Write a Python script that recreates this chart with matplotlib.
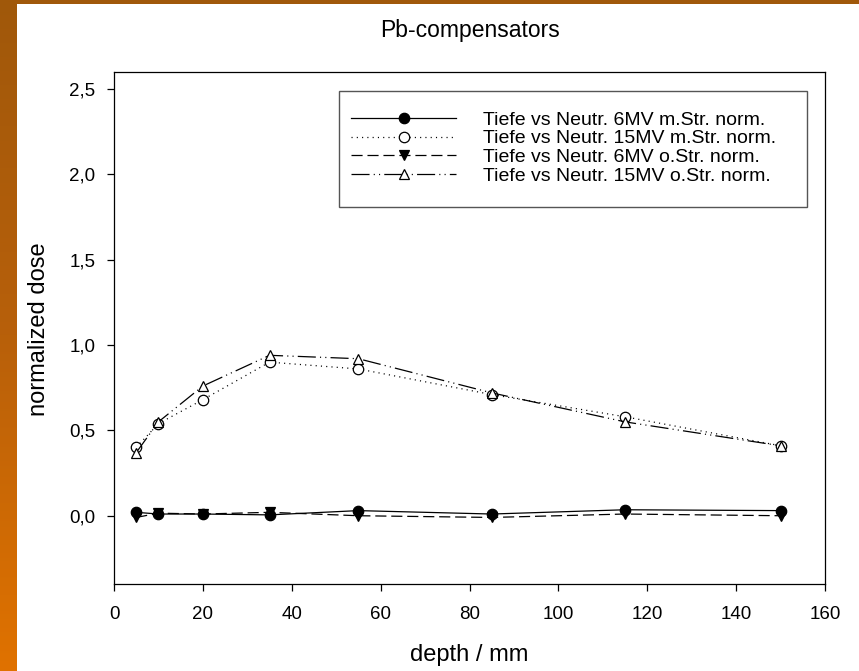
import numpy as np
import matplotlib
matplotlib.use("Agg")
import matplotlib.pyplot as plt
from matplotlib.ticker import FuncFormatter, MultipleLocator
from matplotlib.patches import Rectangle

plt.rcParams['font.family'] = ['Liberation Sans', 'DejaVu Sans']
plt.rcParams['lines.scale_dashes'] = False

# depth in mm
depth = [5, 10, 20, 35, 55, 85, 115, 150]

# normalized neutron dose
dose_6mv_mstr = [0.02, 0.01, 0.01, 0.005, 0.03, 0.01, 0.035, 0.03]
dose_15mv_mstr = [0.40, 0.54, 0.68, 0.90, 0.86, 0.71, 0.58, 0.41]
dose_6mv_ostr = [-0.01, 0.015, 0.01, 0.02, 0.0, -0.01, 0.01, 0.0]
dose_15mv_ostr = [0.37, 0.55, 0.76, 0.94, 0.92, 0.72, 0.55, 0.41]

labels = [
    "Tiefe vs Neutr. 6MV m.Str. norm.",
    "Tiefe vs Neutr. 15MV m.Str. norm.",
    "Tiefe vs Neutr. 6MV o.Str. norm.",
    "Tiefe vs Neutr. 15MV o.Str. norm.",
]

W, H = 859, 671
fig = plt.figure(figsize=(W / 100, H / 100), dpi=100)

# slide-like background: brown/orange strip on the left and top
bg = fig.add_axes([0, 0, 1, 1], zorder=-10)
grad = np.linspace(0, 1, 256).reshape(-1, 1)
cmap = matplotlib.colors.LinearSegmentedColormap.from_list(
    "slide", ["#a0580a", "#b8600a", "#e07200"])
bg.imshow(grad, cmap=cmap, aspect='auto', extent=[0, 1, 0, 1], origin='upper')
bg.add_patch(Rectangle((17 / W, 0), 1, 1 - 4 / H, color='white', lw=0))
bg.set_xlim(0, 1)
bg.set_ylim(0, 1)
bg.axis('off')

ax = fig.add_axes([114 / W, 1 - 584 / H, (825 - 114) / W, (584 - 72) / H])

styles = [
    dict(ls='-', marker='o', mfc='black'),
    dict(ls=(0, (0.8, 3.0)), marker='o', mfc='white'),
    dict(ls=(0, (8, 3.5)), marker='v', mfc='black'),
    dict(ls=(0, (13, 3, 0.8, 3, 0.8, 3)), marker='^', mfc='white'),
]
series = [dose_6mv_mstr, dose_15mv_mstr, dose_6mv_ostr, dose_15mv_ostr]
handles = []
for y, st, lab in zip(series, styles, labels):
    h, = ax.plot(depth, y, color='black', lw=0.9, ms=7.5, mec='black',
                 mew=0.9, label=lab, **st)
    handles.append(h)

ax.set_xlim(0, 160)
ax.set_ylim(-0.4, 2.6)
ax.xaxis.set_major_locator(MultipleLocator(20))
ax.set_yticks([0, 0.5, 1.0, 1.5, 2.0, 2.5])
ax.yaxis.set_major_formatter(FuncFormatter(lambda v, p: f"{v:.1f}".replace('.', ',')))
ax.tick_params(direction='out', length=5, width=0.9, labelsize=13.5,
               top=False, right=False)
ax.tick_params(axis='y', pad=8.5)
ax.tick_params(axis='x', pad=11)
for s in ax.spines.values():
    s.set_linewidth(0.9)

leg = ax.legend(handles=handles, loc='upper left', frameon=False,
                bbox_to_anchor=(351 / W, 1 - 111 / H), bbox_transform=fig.transFigure,
                borderaxespad=0, borderpad=0, fontsize=14, handlelength=5.4,
                handletextpad=1.4, labelspacing=0.06, numpoints=1)
ax.add_patch(Rectangle((339 / W, 1 - 207 / H), (807 - 339) / W, (207 - 91) / H,
                       transform=fig.transFigure, fill=False, ec='#555555',
                       lw=1.0, zorder=5))

fig.text(469.5 / W, 1 - 30 / H, "Pb-compensators", ha='center', va='center',
         fontsize=16.5)
fig.text(469.5 / W, 1 - 655 / H, "depth / mm", ha='center', va='center',
         fontsize=17)
fig.text(39 / W, 1 - 329 / H, "normalized dose", ha='center', va='center',
         rotation=90, fontsize=17)

fig.savefig("out.png", dpi=100)
